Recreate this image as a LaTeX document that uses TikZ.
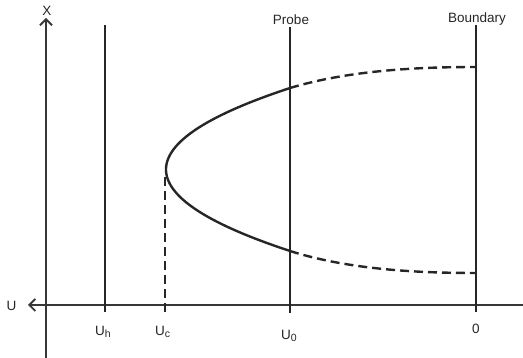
\documentclass[tikz,border=0pt]{standalone}
\usepackage{fontspec}
\setmainfont{Liberation Sans}
\usetikzlibrary{arrows.meta}
\definecolor{ink}{RGB}{38,38,38}
\definecolor{axisink}{RGB}{55,55,55}
\newcommand{\subsc}[1]{\raisebox{-1.5pt}{\fontsize{10.5}{10.5}\selectfont #1}}
\begin{document}
\begin{tikzpicture}[x=1pt,y=-1pt,
  axisline/.style={draw=axisink,line width=1.6pt},
  vline/.style={draw=ink,line width=2.4pt},
  dashline/.style={draw=ink,line width=2.4pt,dash pattern=on 9pt off 5pt},
  curveline/.style={draw=ink,line width=2.4pt},
  lbl/.style={inner sep=0pt,anchor=base,text=ink,font=\fontsize{13.5}{13.5}\selectfont},
  tip/.style={-{Straight Barb[length=6pt,width=12pt,line width=1.8pt]}}]
\useasboundingbox (0,0) rectangle (523,358);
% axes
\coordinate (ybot) at (46,358);
\coordinate (ytop) at (46,18);
\coordinate (xright) at (523,305);
\coordinate (xleft) at (28,305);
\draw[axisline,tip] (ybot) -- (ytop);
\draw[axisline,tip] (xright) -- (xleft);
\node[lbl] (xlab) at (47,16) {X};
\node[lbl] (ulab) at (11.5,311) {U};
% vertical lines
\coordinate (uhtop) at (105,25);
\coordinate (uhbot) at (105,312);
\draw[vline] (uhtop) -- (uhbot);
\coordinate (uctop) at (165,177);
\coordinate (ucbot) at (165,312);
\draw[dashline] (uctop) -- (ucbot);
\coordinate (prtop) at (290,27);
\coordinate (prbot) at (290,313);
\draw[vline] (prtop) -- (prbot);
\coordinate (bdtop) at (476,25);
\coordinate (bdbot) at (476,312);
\draw[vline] (bdtop) -- (bdbot);
% labels
\node[lbl] (probe) at (291,24.5) {Probe};
\node[lbl] (boundary) at (477,23) {Boundary};
\node[lbl,anchor=base west] (uh) at (95,336) {U\subsc{h}};
\node[lbl,anchor=base west] (uc) at (155,336) {U\subsc{c}};
\node[lbl,anchor=base west] (u0) at (281,340) {U\subsc{0}};
\node[lbl] (zero) at (476,334) {0};
% solution curve
\coordinate (upj) at (290,88);
\coordinate (loj) at (290,251);
\coordinate (upend) at (476,67);
\coordinate (loend) at (476,273);
\draw[curveline] plot[domain=88:251,samples=80] ({166+0.01867*(\x-169.5)^2},\x);
\draw[dashline] (upj) .. controls (350,70) and (420,67) .. (upend);
\draw[dashline] (loj) .. controls (350,270) and (420,273) .. (loend);
\end{tikzpicture}
\end{document}
